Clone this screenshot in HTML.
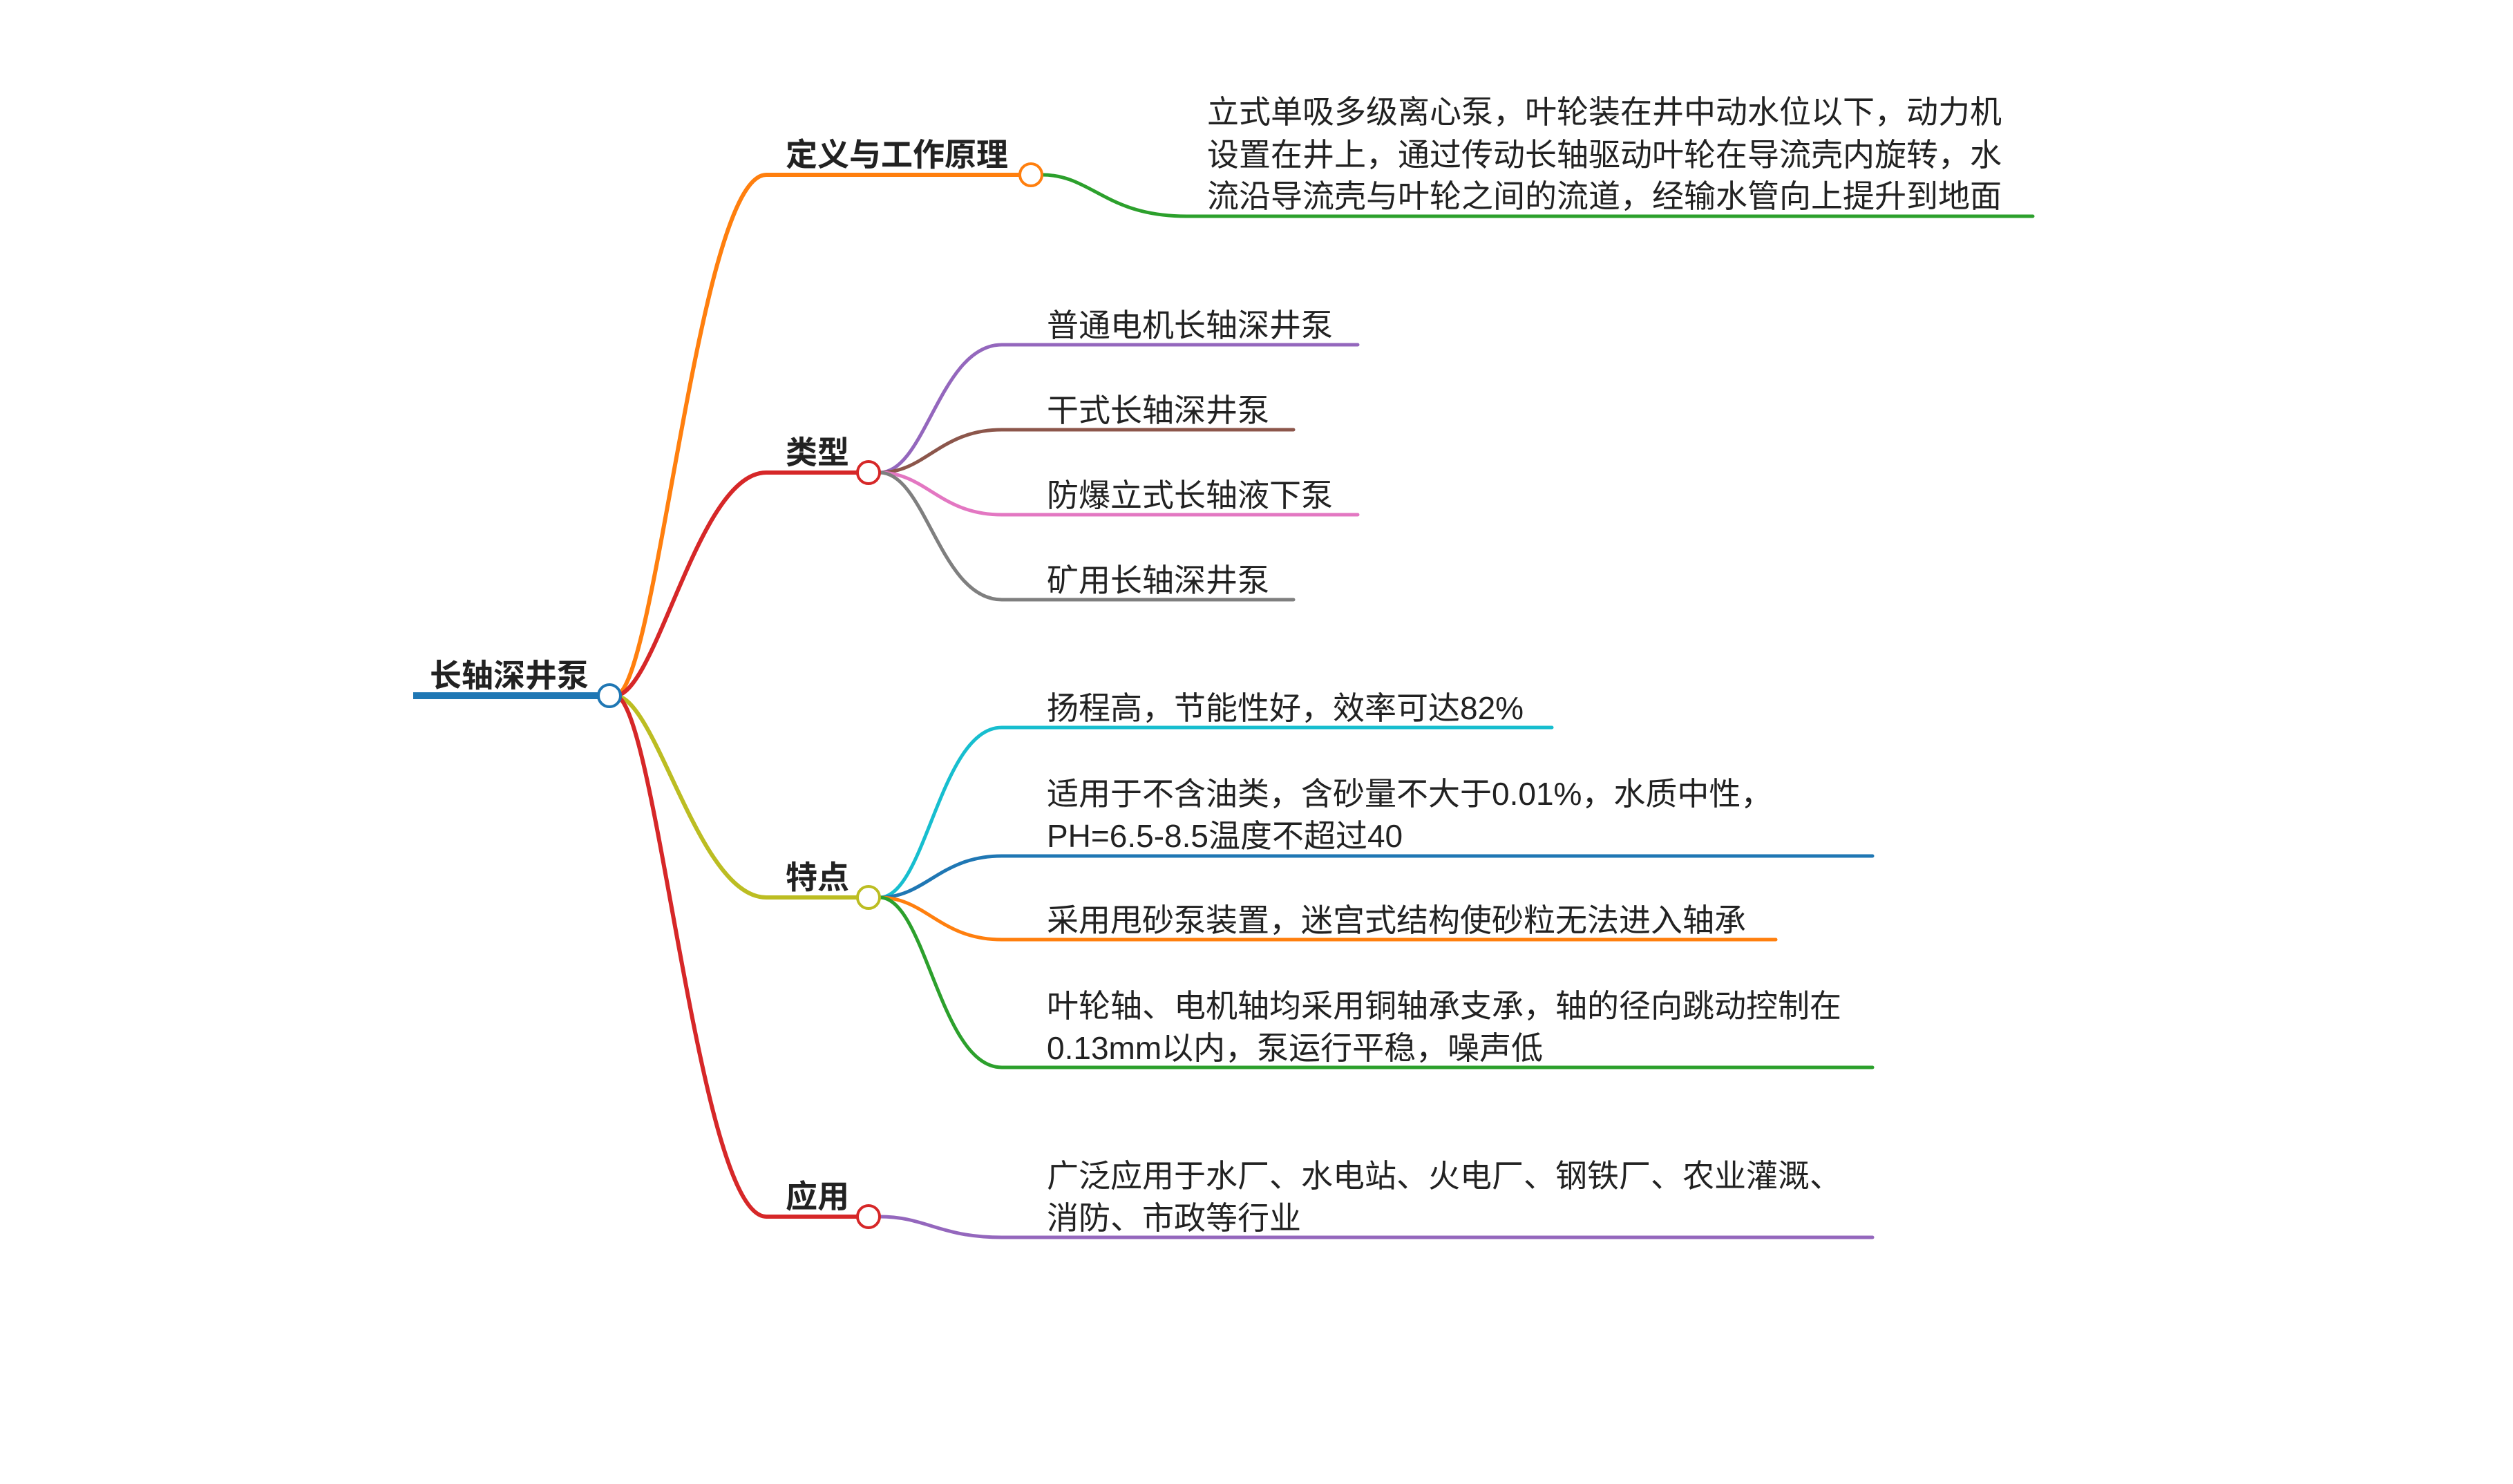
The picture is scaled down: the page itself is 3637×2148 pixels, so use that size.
<!DOCTYPE html>
<html><head><meta charset="utf-8"><style>
html,body{margin:0;padding:0;background:#fff;}
svg{display:block;}
text{font-family:"Liberation Sans","Noto Sans CJK SC",sans-serif;fill:#222;}
.b{font-weight:bold;font-size:46px;}
.t{font-size:46px;}
</style></head><body>
<svg width="3637" height="2148" viewBox="0 0 3637 2148" xmlns="http://www.w3.org/2000/svg">
<g fill="none" stroke-linecap="round">
<!-- root to branches -->
<path d="M890 1007 C 950 1007, 1010 253, 1109 253 L1475 253" stroke="#ff7f0e" stroke-width="6"/>
<path d="M890 1007 C 950 1007, 1010 684, 1109 684 L1240 684" stroke="#d62728" stroke-width="6"/>
<path d="M890 1007 C 950 1007, 1010 1299, 1109 1299 L1240 1299" stroke="#bcbd22" stroke-width="6"/>
<path d="M890 1007 C 950 1007, 1010 1761, 1109 1761 L1240 1761" stroke="#d62728" stroke-width="6"/>
<!-- definition child -->
<path d="M1508 253 C 1580 253, 1600 313, 1717 313 L2942 313" stroke="#2ca02c" stroke-width="5"/>
<!-- types children -->
<path d="M1273 684 C 1340 684, 1360 499, 1450 499 L1965 499" stroke="#9467bd" stroke-width="5"/>
<path d="M1273 684 C 1340 684, 1360 622, 1450 622 L1872 622" stroke="#8c564b" stroke-width="5"/>
<path d="M1273 684 C 1340 684, 1360 745, 1450 745 L1965 745" stroke="#e377c2" stroke-width="5"/>
<path d="M1273 684 C 1340 684, 1360 868, 1450 868 L1872 868" stroke="#7f7f7f" stroke-width="5"/>
<!-- features children -->
<path d="M1273 1299 C 1340 1299, 1360 1053, 1450 1053 L2246 1053" stroke="#17becf" stroke-width="5"/>
<path d="M1273 1299 C 1340 1299, 1360 1239, 1450 1239 L2710 1239" stroke="#1f77b4" stroke-width="5"/>
<path d="M1273 1299 C 1340 1299, 1360 1360, 1450 1360 L2570 1360" stroke="#ff7f0e" stroke-width="5"/>
<path d="M1273 1299 C 1340 1299, 1360 1545, 1450 1545 L2710 1545" stroke="#2ca02c" stroke-width="5"/>
<!-- application child -->
<path d="M1273 1761 C 1340 1761, 1360 1791, 1450 1791 L2710 1791" stroke="#9467bd" stroke-width="5"/>
<!-- root underline -->
<path d="M598 1007 L866 1007" stroke="#1f77b4" stroke-width="10" stroke-linecap="butt"/>
</g>
<g stroke-width="4" fill="#fff">
<circle cx="882" cy="1007" r="16" stroke="#1f77b4"/>
<circle cx="1492" cy="253" r="16" stroke="#ff7f0e"/>
<circle cx="1257" cy="684" r="16" stroke="#d62728"/>
<circle cx="1257" cy="1299" r="16" stroke="#bcbd22"/>
<circle cx="1257" cy="1761" r="16" stroke="#d62728"/>
</g>
<text class="b" x="622" y="994">长轴深井泵</text>
<text class="b" x="1137" y="240">定义与工作原理</text>
<text class="b" x="1137" y="671">类型</text>
<text class="b" x="1137" y="1286">特点</text>
<text class="b" x="1137" y="1748">应用</text>

<text class="t" x="1747" y="178">立式单吸多级离心泵，叶轮装在井中动水位以下，动力机</text>
<text class="t" x="1747" y="240">设置在井上，通过传动长轴驱动叶轮在导流壳内旋转，水</text>
<text class="t" x="1747" y="300">流沿导流壳与叶轮之间的流道，经输水管向上提升到地面</text>

<text class="t" x="1515" y="487">普通电机长轴深井泵</text>
<text class="t" x="1515" y="610">干式长轴深井泵</text>
<text class="t" x="1515" y="733">防爆立式长轴液下泵</text>
<text class="t" x="1515" y="856">矿用长轴深井泵</text>

<text class="t" x="1515" y="1041">扬程高，节能性好，效率可达82%</text>
<text class="t" x="1515" y="1165">适用于不含油类，含砂量不大于0.01%，水质中性，</text>
<text class="t" x="1515" y="1226">PH=6.5-8.5温度不超过40</text>
<text class="t" x="1515" y="1348">采用甩砂泵装置，迷宫式结构使砂粒无法进入轴承</text>
<text class="t" x="1515" y="1472">叶轮轴、电机轴均采用铜轴承支承，轴的径向跳动控制在</text>
<text class="t" x="1515" y="1533">0.13mm以内，泵运行平稳，噪声低</text>

<text class="t" x="1515" y="1718">广泛应用于水厂、水电站、火电厂、钢铁厂、农业灌溉、</text>
<text class="t" x="1515" y="1779">消防、市政等行业</text>
</svg>
</body></html>
